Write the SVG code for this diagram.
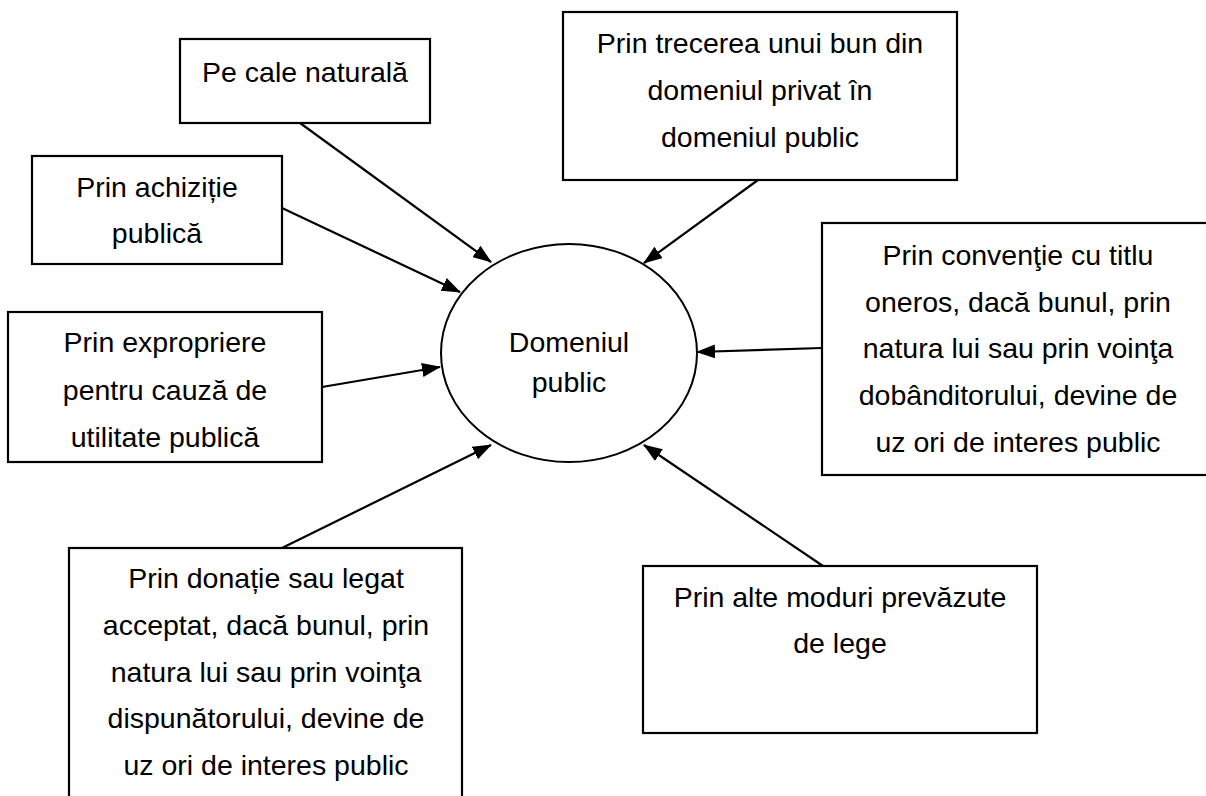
<svg xmlns="http://www.w3.org/2000/svg" width="1206" height="796" viewBox="0 0 1206 796">
<defs>
<style>
.box{fill:#fff;stroke:#000;stroke-width:2.2}
.t{font-family:"Liberation Sans",Arial,sans-serif;font-size:28.5px;fill:#000;text-anchor:middle}
.c{stroke:#000;stroke-width:2.2;fill:none;marker-end:url(#ah)}
</style>
<marker id="ah" markerUnits="userSpaceOnUse" markerWidth="19" markerHeight="14" viewBox="0 0 19 14" refX="18" refY="7" orient="auto">
<path d="M0,0 L19,7 L0,14 z" fill="#000"/>
</marker>
</defs>
<rect width="1206" height="796" fill="#fff"/>
<g id="connectors">
<line class="c" x1="300" y1="123" x2="491" y2="262"/>
<line class="c" x1="282" y1="208" x2="460" y2="292"/>
<line class="c" x1="322" y1="387" x2="440" y2="367"/>
<line class="c" x1="758" y1="180" x2="644" y2="263"/>
<line class="c" x1="822" y1="348" x2="697" y2="352"/>
<line class="c" x1="282" y1="548" x2="491" y2="445"/>
<line class="c" x1="823" y1="566" x2="644" y2="445"/>
</g>
<g id="center">
<ellipse cx="569" cy="353" rx="128" ry="109" fill="none" stroke="#000" stroke-width="2"/>
<text class="t" x="569" y="352">Domeniul</text>
<text class="t" x="569" y="392">public</text>
</g>
<g id="natural">
<rect class="box" x="180" y="39" width="250" height="84"/>
<text class="t" x="305" y="82">Pe cale naturală</text>
</g>
<g id="achizitie">
<rect class="box" x="32" y="156" width="250" height="108"/>
<text class="t" x="157" y="197">Prin achiziție</text>
<text class="t" x="157" y="243">publică</text>
</g>
<g id="expropriere">
<rect class="box" x="8" y="312" width="314" height="150"/>
<text class="t" x="165" y="352">Prin expropriere</text>
<text class="t" x="165" y="400">pentru cauză de</text>
<text class="t" x="165" y="447">utilitate publică</text>
</g>
<g id="trecere">
<rect class="box" x="563" y="12" width="394" height="168"/>
<text class="t" x="760" y="53">Prin trecerea unui bun din</text>
<text class="t" x="760" y="100">domeniul privat în</text>
<text class="t" x="760" y="147">domeniul public</text>
</g>
<g id="conventie">
<rect class="box" x="822" y="223" width="400" height="252"/>
<text class="t" x="1018" y="265">Prin convenţie cu titlu</text>
<text class="t" x="1018" y="312">oneros, dacă bunul, prin</text>
<text class="t" x="1018" y="358">natura lui sau prin voinţa</text>
<text class="t" x="1018" y="405">dobânditorului, devine de</text>
<text class="t" x="1018" y="452">uz ori de interes public</text>
</g>
<g id="donatie">
<rect class="box" x="69" y="548" width="393" height="262"/>
<text class="t" x="266" y="588">Prin donație sau legat</text>
<text class="t" x="266" y="635">acceptat, dacă bunul, prin</text>
<text class="t" x="266" y="682">natura lui sau prin voinţa</text>
<text class="t" x="266" y="728">dispunătorului, devine de</text>
<text class="t" x="266" y="775">uz ori de interes public</text>
</g>
<g id="alte">
<rect class="box" x="643" y="566" width="394" height="167"/>
<text class="t" x="840" y="607">Prin alte moduri prevăzute</text>
<text class="t" x="840" y="653">de lege</text>
</g>
</svg>
